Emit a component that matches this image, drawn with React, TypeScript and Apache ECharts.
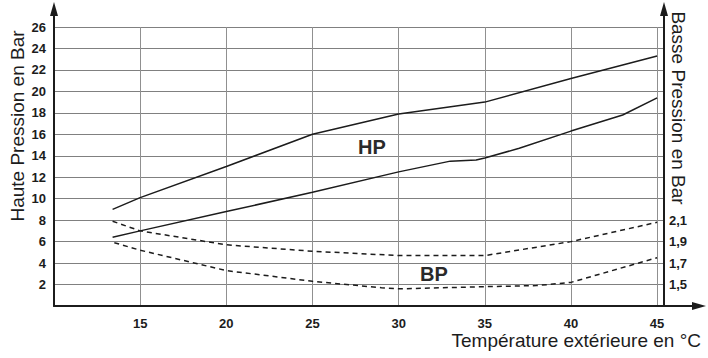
import React, { useEffect, useRef } from "react";
import * as echarts from "echarts";

// Temperatures (°C) and pressures (bar)
const hpHighT = [13.4, 15, 20, 25, 30, 35, 40, 45];
const hpHighP = [9.0, 10.1, 13.0, 16.0, 17.9, 19.0, 21.2, 23.3];

const hpLowT = [13.4, 15, 20, 25, 30, 33, 34.5, 35, 37, 40, 43, 45];
const hpLowP = [6.4, 7.0, 8.8, 10.6, 12.5, 13.5, 13.6, 13.8, 14.7, 16.3, 17.8, 19.4];

const bpHighT = [13.4, 15, 20, 25, 30, 35, 40, 45];
const bpHighP = [2.09, 2.0, 1.87, 1.81, 1.77, 1.77, 1.9, 2.08];

const bpLowT = [13.5, 15, 20, 25, 29, 30, 35, 38, 40, 45];
const bpLowP = [1.89, 1.82, 1.63, 1.53, 1.47, 1.46, 1.48, 1.49, 1.52, 1.75];

const xTickLabels = [15, 20, 25, 30, 35, 40, 45];
const leftTickLabels = [2, 4, 6, 8, 10, 12, 14, 16, 18, 20, 22, 24, 26];
const rightTickLabels = ["1,5", "1,7", "1,9", "2,1"];

const pairs = (xs: number[], ys: number[]) => xs.map((x, i) => [x, ys[i]]);

const INK = "#1c1c1c";
const FONT = "'Liberation Sans', Arial, sans-serif";

export default function App() {
  const ref = useRef<HTMLDivElement>(null);
  useEffect(() => {
    if (!ref.current) return;
    const chart = echarts.init(ref.current, undefined, { renderer: "svg" });
    const solid = { color: INK, width: 1.5, type: "solid" as const };
    const dashed = { color: INK, width: 1.5, type: [5, 4] as any };
    chart.setOption({
      animation: false,
      backgroundColor: "#ffffff",
      textStyle: { fontFamily: FONT },
      grid: { left: 54, right: 44, top: 27, bottom: 52, containLabel: false },
      xAxis: {
        type: "value",
        min: 10,
        max: 45.4,
        interval: 5,
        axisLine: { show: true, lineStyle: { color: INK, width: 2 } },
        axisTick: { show: false },
        splitLine: { show: true, lineStyle: { color: "#909090", width: 1 } },
        axisLabel: {
          margin: 11,
          fontSize: 13,
          fontWeight: "bold",
          color: INK,
          fontFamily: FONT,
          formatter: (v: number) =>
            xTickLabels.some((t) => Math.abs(t - v) < 1e-6) ? String(Math.round(v)) : "",
        },
      },
      yAxis: [
        {
          type: "value",
          min: 0,
          max: 26,
          interval: 2,
          axisLine: { show: true, lineStyle: { color: INK, width: 2 } },
          axisTick: { show: false },
          splitLine: { show: true, lineStyle: { color: "#808080", width: 1 } },
          axisLabel: {
            margin: 8,
            fontSize: 13,
            fontWeight: "bold",
            color: INK,
            fontFamily: FONT,
            formatter: (v: number) =>
              leftTickLabels.some((t) => Math.abs(t - v) < 1e-6) ? String(Math.round(v)) : "",
          },
        },
        {
          type: "value",
          position: "right",
          min: 1.3,
          max: 3.9,
          interval: 0.1,
          axisLine: { show: true, lineStyle: { color: INK, width: 2 } },
          axisTick: { show: false },
          splitLine: { show: false },
          axisLabel: {
            margin: 5,
            fontSize: 13,
            fontWeight: "bold",
            color: INK,
            fontFamily: FONT,
            formatter: (v: number) => {
              const s = v.toFixed(1).replace(".", ",");
              return rightTickLabels.includes(s) && Math.abs(v * 10 - Math.round(v * 10)) < 1e-6 ? s : "";
            },
          },
        },
      ],
      series: [
        { type: "line", yAxisIndex: 0, data: pairs(hpHighT, hpHighP), showSymbol: false, lineStyle: solid },
        { type: "line", yAxisIndex: 0, data: pairs(hpLowT, hpLowP), showSymbol: false, lineStyle: solid },
        { type: "line", yAxisIndex: 1, data: pairs(bpHighT, bpHighP), showSymbol: false, lineStyle: dashed },
        { type: "line", yAxisIndex: 1, data: pairs(bpLowT, bpLowP), showSymbol: false, lineStyle: dashed },
      ],
      graphic: [
        // axis extensions and arrows
        { type: "line", shape: { x1: 54, y1: 27, x2: 54, y2: 12 }, style: { stroke: INK, lineWidth: 2 } },
        { type: "polygon", shape: { points: [[54, 2], [50, 16], [58, 16]] }, style: { fill: INK } },
        { type: "line", shape: { x1: 664, y1: 27, x2: 664, y2: 12 }, style: { stroke: INK, lineWidth: 2 } },
        { type: "polygon", shape: { points: [[664, 2], [660, 16], [668, 16]] }, style: { fill: INK } },
        { type: "line", shape: { x1: 664, y1: 306, x2: 694, y2: 306 }, style: { stroke: INK, lineWidth: 2 } },
        { type: "polygon", shape: { points: [[706, 306], [692, 302], [692, 310]] }, style: { fill: INK } },
        // titles
        {
          type: "text",
          x: 17,
          y: 126,
          rotation: Math.PI / 2,
          style: {
            text: "Haute Pression en Bar",
            font: `19px ${FONT}`,
            fill: INK,
            align: "center",
            verticalAlign: "middle",
          },
        },
        {
          type: "text",
          x: 678,
          y: 108,
          rotation: -Math.PI / 2,
          style: {
            text: "Basse Pression en Bar",
            font: `19px ${FONT}`,
            fill: INK,
            align: "center",
            verticalAlign: "middle",
          },
        },
        {
          type: "text",
          x: 701,
          y: 340,
          style: {
            text: "Température extérieure en °C",
            font: `19px ${FONT}`,
            fill: INK,
            align: "right",
            verticalAlign: "middle",
          },
        },
        {
          type: "text",
          x: 372,
          y: 147,
          style: { text: "HP", font: `bold 20px ${FONT}`, fill: "#2a2a2a", align: "center", verticalAlign: "middle" },
        },
        {
          type: "text",
          x: 434,
          y: 274,
          style: { text: "BP", font: `bold 20px ${FONT}`, fill: "#2a2a2a", align: "center", verticalAlign: "middle" },
        },
      ],
    });
    return () => chart.dispose();
  }, []);
  return <div ref={ref} style={{ width: 708, height: 358, position: "absolute", left: 0, top: 0 }} />;
}
